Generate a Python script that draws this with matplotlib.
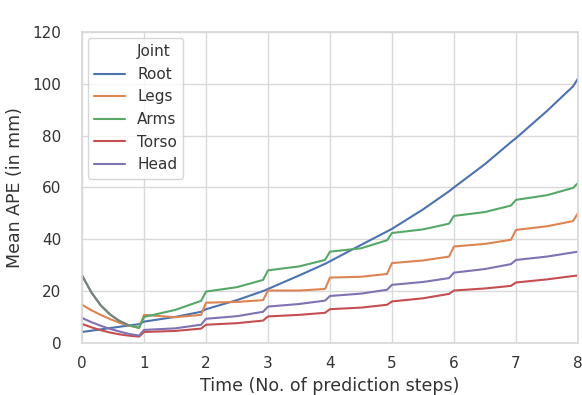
import numpy as np
import matplotlib
matplotlib.use('Agg')
import matplotlib.pyplot as plt
import seaborn as sns
from matplotlib.lines import Line2D

sns.set_theme(style='whitegrid', context='notebook',
              rc={'grid.color': '#d9d9d9', 'axes.edgecolor': '#d9d9d9'})
plt.rcParams['font.family'] = ['DejaVu Sans']

# prediction time (steps); each step restarts just after the integer
t = [0, 0.15, 0.3, 0.45, 0.6, 0.75, 0.92,
     1, 1.5, 1.92, 2, 2.5, 2.92, 3, 3.5, 3.92, 4, 4.5, 4.92,
     5, 5.5, 5.92, 6, 6.5, 6.92, 7, 7.5, 7.92, 8]

root = [4.2, 4.7, 5.2, 5.7, 6.2, 6.7, 7.2,
        8.2, 10.0, 12.0, 13.0, 16.5, 20.0, 20.8, 26.0, 30.5, 31.5, 37.8, 43.0,
        44.0, 51.5, 58.5, 60.0, 69.0, 77.5, 79.0, 89.5, 99.0, 102.0]
legs = [14.7, 12.6, 10.8, 9.2, 7.8, 6.7, 5.8,
        10.8, 9.9, 10.8, 15.5, 15.8, 16.5, 20.2, 20.2, 20.8, 25.2, 25.5, 26.6,
        30.8, 31.8, 33.3, 37.2, 38.2, 39.8, 43.6, 45.0, 47.0, 50.0]
arms = [26.0, 19.5, 14.5, 11.0, 8.5, 6.8, 5.8,
        10.0, 12.7, 16.2, 19.8, 21.5, 24.3, 28.0, 29.5, 32.0, 35.2, 36.5, 39.6,
        42.4, 43.8, 46.0, 49.0, 50.5, 53.0, 55.2, 57.0, 59.8, 61.7]
torso = [7.3, 6.0, 4.9, 4.0, 3.3, 2.8, 2.4,
         4.2, 4.6, 5.5, 7.0, 7.6, 8.6, 10.2, 10.8, 11.6, 13.0, 13.6, 14.7,
         16.0, 17.2, 18.9, 20.2, 21.0, 22.0, 23.3, 24.5, 25.8, 26.0]
head = [9.6, 8.0, 6.6, 5.4, 4.4, 3.5, 2.8,
        5.0, 5.6, 7.0, 9.3, 10.3, 12.0, 14.0, 15.0, 16.3, 18.1, 19.0, 20.5,
        22.4, 23.5, 25.0, 27.1, 28.5, 30.4, 32.0, 33.3, 34.9, 35.2]

# first step of the arm error, drawn again in grey
first_t = [0, 0.15, 0.3, 0.45, 0.6, 0.75]
first_arms = [26.0, 19.5, 14.5, 11.0, 8.5, 6.8]

joints = ['Root', 'Legs', 'Arms', 'Torso', 'Head']
series = [root, legs, arms, torso, head]
colors = sns.color_palette('deep')
joint_colors = [colors[0], colors[1], colors[2], colors[3], colors[4]]

fig = plt.figure(figsize=(5.82, 3.95), dpi=100)
ax = fig.add_axes([0.141, 0.132, 0.852, 0.787])

for name, vals, c in zip(joints, series, joint_colors):
    ax.plot(t, vals, color=c, lw=1.5, label=name)
ax.plot(first_t, first_arms, color='#7f7f7f', lw=1.5)

ax.set_xlim(0, 8)
ax.set_ylim(0, 120)
ax.set_xticks(range(0, 9))
ax.set_yticks(range(0, 121, 20))
ax.set_xlabel('Time (No. of prediction steps)', fontsize=12.5, color='#333333')
ax.set_ylabel('Mean APE (in mm)', fontsize=12.5, color='#333333', labelpad=6)
ax.tick_params(labelsize=11, labelcolor='#333333')
ax.tick_params(axis='y', pad=9)

handles = [Line2D([], [], color='none')]
handles += [Line2D([], [], color=c, lw=1.5) for c in joint_colors]
leg = ax.legend(handles, ['Joint'] + joints, loc='upper left', fontsize=11,
                frameon=True, borderaxespad=0.4)
for txt in leg.get_texts():
    txt.set_color('#333333')

fig.savefig('out.png', dpi=100)
